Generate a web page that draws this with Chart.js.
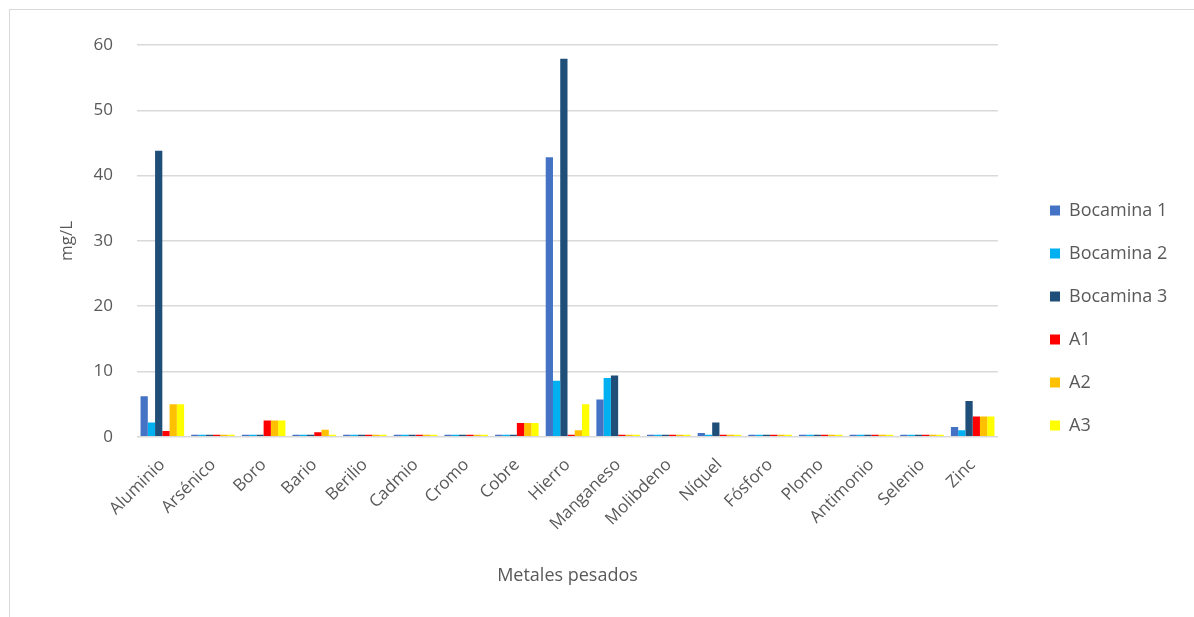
<!DOCTYPE html>
<html>
<head>
<meta charset="utf-8">
<script src="https://cdn.jsdelivr.net/npm/chart.js@4.4.1/dist/chart.umd.min.js"></script>
<style>
  html, body { margin: 0; padding: 0; background: #ffffff; }
  #wrap { position: relative; width: 1194px; height: 617px; overflow: hidden; }
  #frame { position: absolute; left: 9px; top: 9px; width: 1300px; height: 700px; border: 1px solid #d9d9d9; pointer-events: none; }
  canvas { position: absolute; left: 0; top: 0; }
</style>
</head>
<body>
<div id="wrap">
  <canvas id="c" width="1194" height="617"></canvas>
  <div id="frame"></div>
</div>
<script>
const categories = ['Aluminio','Arsénico','Boro','Bario','Berilio','Cadmio','Cromo','Cobre','Hierro','Manganeso','Molibdeno','Níquel','Fósforo','Plomo','Antimonio','Selenio','Zinc'];
const seriesNames = ['Bocamina 1','Bocamina 2','Bocamina 3','A1','A2','A3'];
const bocamina1 = [6.2, 0.05, 0, 0.1, 0, 0, 0, 0.1, 42.8, 5.7, 0, 0.6, 0.2, 0, 0, 0, 1.5];
const bocamina2 = [2.2, 0.05, 0, 0.1, 0, 0, 0, 0.1, 8.6, 9.0, 0, 0.3, 0.2, 0, 0, 0, 1.0];
const bocamina3 = [43.8, 0.05, 0, 0.1, 0, 0, 0, 0.2, 57.9, 9.4, 0, 2.2, 0.2, 0, 0, 0, 5.5];
const a1 = [0.9, 0, 2.5, 0.7, 0, 0, 0, 2.1, 0.3, 0.3, 0, 0.1, 0.1, 0, 0, 0, 3.1];
const a2 = [5.0, 0, 2.5, 1.1, 0, 0, 0, 2.1, 1.0, 0.3, 0, 0.1, 0.1, 0, 0, 0, 3.1];
const a3 = [5.0, 0, 2.5, 0.1, 0, 0, 0, 2.1, 5.0, 0.3, 0, 0.1, 0.1, 0, 0, 0, 3.1];
const colors = ['#4472C4', '#00B0F0', '#1F4E79', '#FF0000', '#FFC000', '#FFFF00'];
const yTicks = [0, 10, 20, 30, 40, 50, 60];

const seriesData = [bocamina1, bocamina2, bocamina3, a1, a2, a3];
const textColor = '#595959';
const fontFamily = "'Open Sans', 'DejaVu Sans', sans-serif";

const legendShift = {
  id: 'legendShift',
  beforeLayout(chart) {
    const lg = chart.legend;
    if (lg && !lg._patched) {
      const orig = lg.fit;
      lg.fit = function () { orig.call(this); this.width = 196; };
      lg._patched = true;
    }
  },
  afterLayout(chart) {
    const lg = chart.legend;
    if (lg) { lg.left += 27; lg.right += 27; lg.top += 2; lg.bottom += 2; }
  }
};

new Chart(document.getElementById('c'), {
  type: 'bar',
  data: {
    labels: categories,
    datasets: seriesData.map((d, i) => ({
      label: seriesNames[i],
      data: d,
      backgroundColor: colors[i],
      borderWidth: 0,
      minBarLength: 2,
      categoryPercentage: 0.86,
      barPercentage: 1.0
    }))
  },
  options: {
    responsive: false,
    animation: false,
    devicePixelRatio: 1,
    layout: { padding: { left: 40, top: 45, bottom: 30, right: 0 } },
    plugins: {
      legend: {
        position: 'right',
        align: 'center',
        labels: {
          boxWidth: 10,
          boxHeight: 10,
          padding: 25,
          color: textColor,
          font: { family: fontFamily, size: 18 }
        }
      },
      tooltip: { enabled: false }
    },
    scales: {
      x: {
        afterFit(scale) { scale.paddingLeft = 0; scale.paddingRight = 0; },
        grid: { display: false, drawTicks: false },
        border: { display: false },
        ticks: {
          autoSkip: false,
          maxRotation: 45,
          minRotation: 45,
          padding: 18,
          color: textColor,
          font: { family: fontFamily, size: 17 }
        },
        title: {
          display: true,
          text: 'Metales pesados',
          color: textColor,
          font: { family: fontFamily, size: 18 },
          padding: { top: 13, bottom: 0 }
        }
      },
      y: {
        min: 0,
        max: 60,
        afterBuildTicks(scale) { scale.ticks = yTicks.map(v => ({ value: v })); },
        afterFit(scale) { scale.width = 97; },
        grid: { color: '#d9d9d9', lineWidth: 1.5, drawTicks: false },
        border: { display: false },
        ticks: {
          padding: 24,
          color: textColor,
          font: { family: fontFamily, size: 17 }
        },
        title: {
          display: true,
          text: 'mg/L',
          color: textColor,
          font: { family: fontFamily, size: 17 },
          padding: { top: 17, bottom: 14 }
        }
      }
    }
  },
  plugins: [legendShift]
});
</script>
</body>
</html>
